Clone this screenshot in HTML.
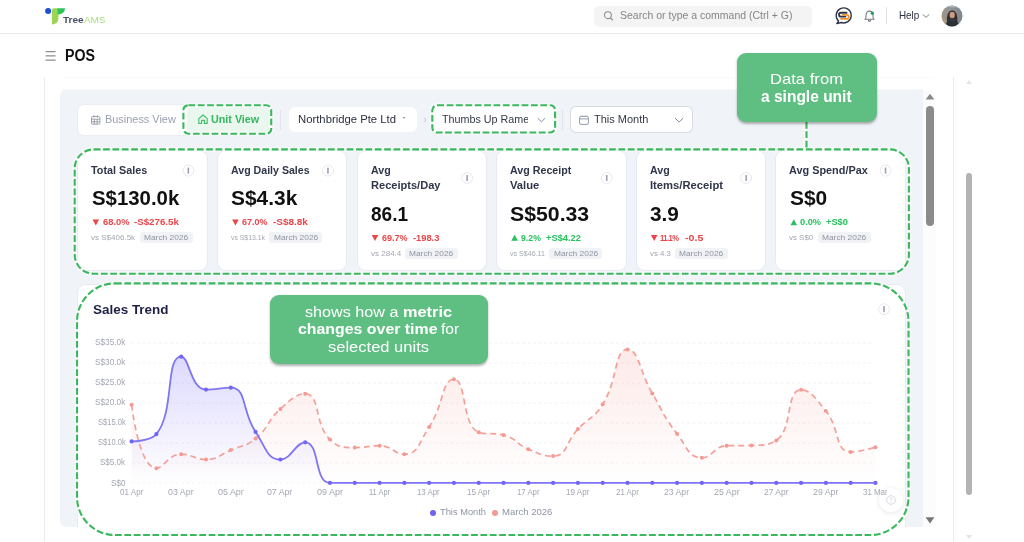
<!DOCTYPE html>
<html lang="en">
<head>
<meta charset="utf-8">
<title>POS - TreeAMS</title>
<style>
*{box-sizing:border-box;margin:0;padding:0}
html,body{width:1024px;height:542px;overflow:hidden;background:#fff;font-family:"Liberation Sans",sans-serif}
#page{filter:blur(.4px);position:relative;width:1024px;height:542px;overflow:hidden;background:#fff}
.abs{position:absolute}
.t{position:absolute;white-space:pre;line-height:1;transform-origin:0 0}
.hdr-line{left:0;top:33px;width:1024px;height:1px;background:#ebebeb}
.search{left:594px;top:5.5px;width:218px;height:21px;background:#f4f4f4;border-radius:5px}
.vline{width:1px;background:#ececec}
.panel{left:60px;top:90px;width:862.5px;height:436.6px;background:#f0f3f8;border-radius:6px 0 0 6px}
.tabs{left:78px;top:105px;width:194px;height:30px;background:#fff;border-radius:6px;box-shadow:0 0 0 1px #e9ecf1}
.unit{left:187.4px;top:107.1px;width:82px;height:24.6px;background:#e9f7ee;border-radius:4px}
.dd{background:#fff;border-radius:6px}
.card{background:#fff;border-radius:8px;box-shadow:0 0 0 1px rgba(225,229,236,.6)}
.badge{background:#f0f2f5;border-radius:3px;height:10.8px;width:53px}
.callout{background:#5fbf82;border-radius:9px;box-shadow:0 1.5px 2.5px rgba(0,0,0,.3)}
.info{width:12px;height:12px;border-radius:50%;border:1px solid #e8eaee;background:#fff}
.info:after{content:"";position:absolute;left:4.2px;top:1.9px;width:1.6px;height:6.2px;border-radius:.5px;background:#9296a6}
</style>
</head>
<body>
<div id="page">

<!-- ===== top header ===== -->
<div class="abs hdr-line"></div>
<svg class="abs" style="left:40px;top:2px" width="72" height="30" viewBox="40 2 72 30">
  <circle cx="48.1" cy="10.9" r="3" fill="#1b4fd4"/>
  <path d="M52 10.2 Q52 8.2 54 8.2 L58.4 8.2 L58.4 18.5 Q58.2 24 52 24.6 Z" fill="#9ad654"/>
  <path d="M57.6 8.2 L65 8.2 Q65 14.2 57.6 14.4 Z" fill="#2fc45a"/>
</svg>
<div class="abs search"></div>
<svg class="abs" style="left:603px;top:10px" width="12" height="12" viewBox="0 0 12 12"><circle cx="4.9" cy="5.2" r="3.4" fill="none" stroke="#8d8d8d" stroke-width="1.1"/><path d="M7.4 7.8 L9.6 10" stroke="#8d8d8d" stroke-width="1.1" stroke-linecap="round"/></svg>

<!-- chat icon -->
<svg class="abs" style="left:834px;top:6px" width="20" height="20" viewBox="0 0 20 20">
  <path d="M4.6 14.9 A7.5 7.5 0 1 1 7.3 16.5 L2.9 17.6 Z" fill="#fff" stroke="#2c3447" stroke-width="1.4" stroke-linejoin="round"/>
  <path d="M12.6 6.75 H7 a1.97 1.97 0 0 0 0 3.94 H11.4" fill="none" stroke="#2c3447" stroke-width="1.8" stroke-linecap="round"/>
  <path d="M8.6 8.9 H12.7 a2.03 2.03 0 0 1 0 4.06 H7" fill="none" stroke="#f0932b" stroke-width="1.8" stroke-linecap="round"/>
</svg>
<!-- bell -->
<svg class="abs" style="left:862px;top:7.6px" width="16" height="16" viewBox="0 0 16 16">
  <path d="M2.9 11.3 C4.2 10.2 4.1 9 4.1 7.1 C4.1 4.6 5.5 3.1 7.5 3.1 C9.5 3.1 10.9 4.6 10.9 7.1 C10.9 9 10.8 10.2 12.1 11.3 Z" fill="#fff" stroke="#777a80" stroke-width="1.1" stroke-linejoin="round"/>
  <path d="M6.4 12.7 Q7.5 13.9 8.6 12.7" fill="none" stroke="#55585e" stroke-width="1.1" stroke-linecap="round"/>
  <circle cx="10.3" cy="5.2" r="1.6" fill="#1e9e57"/>
</svg>
<div class="abs" style="left:886px;top:7px;width:1px;height:17px;background:#e3e3e3"></div>
<svg class="abs" style="left:921px;top:12px" width="10" height="8" viewBox="0 0 10 8"><path d="M1.8 2.4 L5 5.4 L8.2 2.4" fill="none" stroke="#7d828c" stroke-width="1"/></svg>
<!-- avatar -->
<svg class="abs" style="left:940.5px;top:5px" width="22" height="22" viewBox="0 0 22 22">
  <defs><clipPath id="av"><circle cx="11" cy="10.95" r="10.5"/></clipPath>
  <linearGradient id="avg" x1="0" y1="0" x2="1" y2="0"><stop offset="0" stop-color="#a3957f"/><stop offset=".4" stop-color="#8f9499"/><stop offset="1" stop-color="#7d868e"/></linearGradient></defs>
  <g clip-path="url(#av)">
    <rect width="22" height="22" fill="url(#avg)"/>
    <path d="M0 6 Q5 1 11 2.4 Q17 1 22 7 V0 H0 Z" fill="#aeb4bb"/>
    <path d="M0 22 V12 Q3 13 5 17 L6 22 Z" fill="#b39f83"/>
    <path d="M6 18 Q5.2 5.6 11.2 5.2 Q17 5.6 16.4 18 Z" fill="#3a2c26"/>
    <ellipse cx="11.2" cy="10" rx="2.6" ry="3.3" fill="#c99c88"/>
    <path d="M4.2 22 Q4.8 14.6 11.2 13.9 Q17.6 14.6 18.2 22 Z" fill="#2a3237"/>
    <path d="M8.2 13.6 H14.2 V16 H8.2 Z" fill="#323b42"/>
  </g>
</svg>

<!-- ===== page title ===== -->
<svg class="abs" style="left:43.9px;top:48.9px" width="14" height="14" viewBox="0 0 14 14"><path d="M1.6 2.6 H11.6 M1.6 6.9 H11.6 M1.6 11.2 H11.6" stroke="#8d8d8d" stroke-width="1.2"/></svg>

<!-- frame lines / scrollbars -->
<div class="abs vline" style="left:44px;top:77px;height:465px"></div>
<div class="abs vline" style="left:953px;top:77px;height:465px"></div>
<div class="abs" style="left:64px;top:77px;width:870px;height:1px;background:#fafafa"></div>
<div class="abs" style="left:966px;top:173px;width:6px;height:322px;border-radius:3px;background:#b3b3b3"></div>
<svg class="abs" style="left:964px;top:78px" width="10" height="8" viewBox="0 0 10 8"><path d="M2 6 L5 2 L8 6 Z" fill="#e4e4e4"/></svg>
<svg class="abs" style="left:964px;top:533px" width="10" height="8" viewBox="0 0 10 8"><path d="M2 2 L5 6 L8 2 Z" fill="#e4e4e4"/></svg>

<!-- ===== main panel ===== -->
<div class="abs" style="left:62px;top:89px;width:860.5px;height:2px;background:#f7f9fb"></div>
<div class="abs panel"></div>
<div class="abs" style="left:922.5px;top:90px;width:13.5px;height:436.6px;background:#fcfcfd;border-radius:0 6px 6px 0"></div>
<div class="abs" style="left:925.8px;top:106px;width:8px;height:119.5px;border-radius:4px;background:#8b8b8b"></div>
<svg class="abs" style="left:923.7px;top:91.1px" width="12" height="10" viewBox="0 0 12 10"><path d="M1.6 8.4 L6 2.8 L10.4 8.4 Z" fill="#8a8a8a"/></svg>
<svg class="abs" style="left:923.7px;top:515px" width="12" height="10" viewBox="0 0 12 10"><path d="M1.6 2.2 L6 8.6 L10.4 2.2 Z" fill="#777"/></svg>

<!-- filter row -->
<div class="abs tabs"></div>
<div class="abs unit"></div>
<svg class="abs" style="left:90px;top:113.8px" width="12" height="12" viewBox="0 0 12 12"><rect x="1.5" y="2.6" width="8.4" height="7.6" rx="1.2" fill="none" stroke="#9aa0ad" stroke-width="1"/><path d="M1.5 5.2 H9.9 M3.9 1.2 V3.4 M7.5 1.2 V3.4 M4.3 5.2 V10.2 M7.1 5.2 V10.2 M1.5 7.8 H9.9" stroke="#9aa0ad" stroke-width="1" fill="none"/></svg>
<svg class="abs" style="left:196.6px;top:113.2px" width="12" height="12" viewBox="0 0 12 12"><path d="M1.8 5.6 L6 2 L10.2 5.6 V10.4 H7.4 V7.4 H4.6 V10.4 H1.8 Z" fill="none" stroke="#3fbf68" stroke-width="1.1" stroke-linejoin="round"/></svg>
<div class="abs" style="left:280px;top:110px;width:1px;height:20px;background:#e0e4ea"></div>
<div class="abs dd" style="left:289px;top:106.6px;width:128px;height:25.8px"></div>
<svg class="abs" style="left:401.4px;top:116.2px" width="6" height="4" viewBox="0 0 6 4"><path d="M1.5 1 L3 2.8 L4.5 1 Z" fill="#8a8fa0"/></svg>
<svg class="abs" style="left:422px;top:116px" width="6" height="8" viewBox="0 0 6 8"><path d="M1.8 1.6 L4 4 L1.8 6.4" fill="none" stroke="#c3c7cf" stroke-width="1"/></svg>
<div class="abs dd" style="left:432.3px;top:105.2px;width:122.8px;height:27.3px"></div>
<svg class="abs" style="left:535px;top:114px" width="14" height="10" viewBox="0 0 14 10"><path d="M2.7 4.2 L6.4 7.8 L10.1 4.2" fill="none" stroke="#838aa0" stroke-width="1"/></svg>
<div class="abs" style="left:562px;top:110px;width:1px;height:20px;background:#e0e4ea"></div>
<div class="abs dd" style="left:571.2px;top:106.9px;width:120.8px;height:24.9px;border-radius:5px;box-shadow:0 0 0 1px #d9dbe0"></div>
<svg class="abs" style="left:578px;top:114px" width="12" height="12" viewBox="0 0 12 12"><rect x="1.6" y="2.4" width="8.8" height="8" rx="1.4" fill="none" stroke="#989db0" stroke-width="1"/><path d="M1.6 4.9 H10.4 M4 1.4 V3 M8 1.4 V3" stroke="#989db0" stroke-width="1" fill="none"/></svg>
<svg class="abs" style="left:672px;top:114px" width="14" height="10" viewBox="0 0 14 10"><path d="M3 4.1 L7.1 8 L11.2 4.1" fill="none" stroke="#838aa0" stroke-width="1"/></svg>

<!-- KPI cards -->
<div class="abs card" style="left:78.4px;top:151px;width:128.4px;height:119px"></div>
<div class="abs card" style="left:218.0px;top:151px;width:128.4px;height:119px"></div>
<div class="abs card" style="left:357.6px;top:151px;width:128.4px;height:119px"></div>
<div class="abs card" style="left:497.2px;top:151px;width:128.4px;height:119px"></div>
<div class="abs card" style="left:636.8px;top:151px;width:128.4px;height:119px"></div>
<div class="abs card" style="left:776.4px;top:151px;width:128.4px;height:119px"></div>


<div class="abs badge" style="left:139.6px;top:232.4px"></div>
<div class="abs badge" style="left:269.1px;top:232.4px"></div>
<div class="abs badge" style="left:405.0px;top:247.8px"></div>
<div class="abs badge" style="left:549.3px;top:247.8px"></div>
<div class="abs badge" style="left:674.8px;top:247.8px"></div>
<div class="abs badge" style="left:817.7px;top:232.4px"></div>
<svg class="abs" style="left:0;top:0" width="1024" height="542" viewBox="0 0 1024 542"><path d="M92.50 219.50 h6.6 l-3.3 6.1 z" fill="#ec4549"/><path d="M232.10 219.50 h6.6 l-3.3 6.1 z" fill="#ec4549"/><path d="M371.70 234.90 h6.6 l-3.3 6.1 z" fill="#ec4549"/><path d="M511.30 240.70 l3.3 -6 l3.3 6 z" fill="#25c15c"/><path d="M650.90 234.90 h6.6 l-3.3 6.1 z" fill="#ec4549"/><path d="M790.50 225.30 l3.3 -6 l3.3 6 z" fill="#25c15c"/></svg>

<!-- Sales trend card -->
<div class="abs card" style="left:78.4px;top:284.5px;width:826.4px;height:242px;border-radius:8px 8px 0 0"></div>
<div class="abs" style="left:78.4px;top:526px;width:826.4px;height:16px;background:#fff"></div>
<svg class="abs" style="left:0;top:0" width="1024" height="542" viewBox="0 0 1024 542"><circle cx="188.4" cy="170.6" r="5.4" fill="#fff" stroke="#e7e9ee" stroke-width="1"/><rect x="187.55" y="167.50" width="1.6" height="6.2" rx=".4" fill="#9da1b0"/><circle cx="328.0" cy="170.6" r="5.4" fill="#fff" stroke="#e7e9ee" stroke-width="1"/><rect x="327.15" y="167.50" width="1.6" height="6.2" rx=".4" fill="#9da1b0"/><circle cx="467.2" cy="178.0" r="5.4" fill="#fff" stroke="#e7e9ee" stroke-width="1"/><rect x="466.35" y="174.90" width="1.6" height="6.2" rx=".4" fill="#9da1b0"/><circle cx="606.8" cy="178.0" r="5.4" fill="#fff" stroke="#e7e9ee" stroke-width="1"/><rect x="605.95" y="174.90" width="1.6" height="6.2" rx=".4" fill="#9da1b0"/><circle cx="746.2" cy="178.0" r="5.4" fill="#fff" stroke="#e7e9ee" stroke-width="1"/><rect x="745.35" y="174.90" width="1.6" height="6.2" rx=".4" fill="#9da1b0"/><circle cx="885.6" cy="170.6" r="5.4" fill="#fff" stroke="#e7e9ee" stroke-width="1"/><rect x="884.75" y="167.50" width="1.6" height="6.2" rx=".4" fill="#9da1b0"/><circle cx="884.1" cy="309.2" r="5.4" fill="#fff" stroke="#e7e9ee" stroke-width="1"/><rect x="883.25" y="306.10" width="1.6" height="6.2" rx=".4" fill="#9da1b0"/></svg>
<svg class="abs" style="left:0;top:0" width="1024" height="542" viewBox="0 0 1024 542">
<defs><linearGradient id="gb" x1="0" y1="350" x2="0" y2="483" gradientUnits="userSpaceOnUse"><stop offset="0" stop-color="#7b6cf6" stop-opacity=".27"/><stop offset="1" stop-color="#7b6cf6" stop-opacity="0"/></linearGradient><linearGradient id="gr" x1="0" y1="345" x2="0" y2="483" gradientUnits="userSpaceOnUse"><stop offset="0" stop-color="#f59a93" stop-opacity=".22"/><stop offset="1" stop-color="#f59a93" stop-opacity="0"/></linearGradient><clipPath id="cc"><rect x="78" y="286" width="826.5" height="256"/></clipPath></defs>
<line x1="131.5" x2="875" y1="482.90" y2="482.90" stroke="#f2f3f6" stroke-width="1" stroke-dasharray="3 2.5"/>
<line x1="131.5" x2="875" y1="462.93" y2="462.93" stroke="#f2f3f6" stroke-width="1" stroke-dasharray="3 2.5"/>
<line x1="131.5" x2="875" y1="442.96" y2="442.96" stroke="#f2f3f6" stroke-width="1" stroke-dasharray="3 2.5"/>
<line x1="131.5" x2="875" y1="422.99" y2="422.99" stroke="#f2f3f6" stroke-width="1" stroke-dasharray="3 2.5"/>
<line x1="131.5" x2="875" y1="403.02" y2="403.02" stroke="#f2f3f6" stroke-width="1" stroke-dasharray="3 2.5"/>
<line x1="131.5" x2="875" y1="383.05" y2="383.05" stroke="#f2f3f6" stroke-width="1" stroke-dasharray="3 2.5"/>
<line x1="131.5" x2="875" y1="363.08" y2="363.08" stroke="#f2f3f6" stroke-width="1" stroke-dasharray="3 2.5"/>
<line x1="131.5" x2="875" y1="343.11" y2="343.11" stroke="#f2f3f6" stroke-width="1" stroke-dasharray="3 2.5"/>
<path d="M131.60 404.70 C131.60 404.70 138.91 468.30 156.39 468.30 C163.70 468.30 168.06 454.20 181.19 454.20 C192.86 454.20 193.87 459.50 205.99 459.50 C218.66 459.50 218.58 455.27 230.78 450.10 C243.37 444.77 245.28 447.03 255.57 438.50 C270.07 426.48 266.25 421.76 280.37 409.00 C291.05 399.36 296.27 393.70 305.16 393.70 C321.07 393.70 313.44 423.33 329.96 439.50 C338.23 447.60 342.06 447.60 354.75 447.60 C366.86 447.60 367.48 445.70 379.55 445.70 C392.27 445.70 394.04 454.20 404.35 454.20 C418.84 454.20 419.05 442.16 429.14 426.90 C443.85 404.66 442.07 379.20 453.94 379.20 C466.87 379.20 461.34 425.72 478.73 432.30 C486.13 435.10 491.96 432.30 503.52 435.10 C516.75 438.30 515.29 443.68 528.32 449.20 C540.08 454.18 542.89 456.10 553.12 456.10 C567.68 456.10 565.24 442.34 577.91 429.10 C590.03 416.44 593.58 418.96 602.71 404.30 C618.38 379.11 614.01 349.40 627.50 349.40 C638.81 349.40 639.50 371.63 652.30 393.40 C664.30 413.83 662.73 415.18 677.09 433.80 C687.52 447.33 688.11 457.70 701.89 457.70 C712.90 457.70 713.63 446.03 726.68 445.70 C738.43 445.40 739.20 445.70 751.48 445.40 C764.00 445.09 768.59 445.40 776.27 440.40 C793.38 429.26 785.35 389.80 801.07 389.80 C810.14 389.80 815.83 398.34 825.86 410.90 C840.62 429.39 834.41 451.90 850.66 451.90 C859.21 451.90 875.45 447.20 875.45 447.20 L875.45 482.90 L131.60 482.90 Z" fill="url(#gr)"/>
<path d="M131.60 441.40 C131.60 441.40 150.41 441.40 156.39 434.10 C175.21 411.15 164.74 356.70 181.19 356.70 C189.53 356.70 190.52 389.60 205.99 389.60 C215.32 389.60 222.62 387.70 230.78 387.70 C247.41 387.70 241.26 411.17 255.57 431.90 C266.05 447.07 266.70 459.50 280.37 459.50 C291.49 459.50 295.54 442.30 305.16 442.30 C320.34 442.30 313.66 482.90 329.96 482.90 C338.46 482.90 342.36 482.90 354.75 482.90 C367.15 482.90 367.15 482.90 379.55 482.90 C391.95 482.90 391.95 482.90 404.35 482.90 C416.74 482.90 416.74 482.90 429.14 482.90 C441.54 482.90 441.54 482.90 453.94 482.90 C466.33 482.90 466.33 482.90 478.73 482.90 C491.13 482.90 491.13 482.90 503.52 482.90 C515.92 482.90 515.92 482.90 528.32 482.90 C540.72 482.90 540.72 482.90 553.12 482.90 C565.51 482.90 565.51 482.90 577.91 482.90 C590.31 482.90 590.31 482.90 602.71 482.90 C615.10 482.90 615.10 482.90 627.50 482.90 C639.90 482.90 639.90 482.90 652.30 482.90 C664.69 482.90 664.69 482.90 677.09 482.90 C689.49 482.90 689.49 482.90 701.89 482.90 C714.28 482.90 714.28 482.90 726.68 482.90 C739.08 482.90 739.08 482.90 751.48 482.90 C763.87 482.90 763.87 482.90 776.27 482.90 C788.67 482.90 788.67 482.90 801.07 482.90 C813.46 482.90 813.46 482.90 825.86 482.90 C838.26 482.90 838.26 482.90 850.66 482.90 C863.05 482.90 875.45 482.90 875.45 482.90 L875.45 482.90 L131.60 482.90 Z" fill="url(#gb)"/>
<path d="M131.60 404.70 C131.60 404.70 138.91 468.30 156.39 468.30 C163.70 468.30 168.06 454.20 181.19 454.20 C192.86 454.20 193.87 459.50 205.99 459.50 C218.66 459.50 218.58 455.27 230.78 450.10 C243.37 444.77 245.28 447.03 255.57 438.50 C270.07 426.48 266.25 421.76 280.37 409.00 C291.05 399.36 296.27 393.70 305.16 393.70 C321.07 393.70 313.44 423.33 329.96 439.50 C338.23 447.60 342.06 447.60 354.75 447.60 C366.86 447.60 367.48 445.70 379.55 445.70 C392.27 445.70 394.04 454.20 404.35 454.20 C418.84 454.20 419.05 442.16 429.14 426.90 C443.85 404.66 442.07 379.20 453.94 379.20 C466.87 379.20 461.34 425.72 478.73 432.30 C486.13 435.10 491.96 432.30 503.52 435.10 C516.75 438.30 515.29 443.68 528.32 449.20 C540.08 454.18 542.89 456.10 553.12 456.10 C567.68 456.10 565.24 442.34 577.91 429.10 C590.03 416.44 593.58 418.96 602.71 404.30 C618.38 379.11 614.01 349.40 627.50 349.40 C638.81 349.40 639.50 371.63 652.30 393.40 C664.30 413.83 662.73 415.18 677.09 433.80 C687.52 447.33 688.11 457.70 701.89 457.70 C712.90 457.70 713.63 446.03 726.68 445.70 C738.43 445.40 739.20 445.70 751.48 445.40 C764.00 445.09 768.59 445.40 776.27 440.40 C793.38 429.26 785.35 389.80 801.07 389.80 C810.14 389.80 815.83 398.34 825.86 410.90 C840.62 429.39 834.41 451.90 850.66 451.90 C859.21 451.90 875.45 447.20 875.45 447.20" fill="none" stroke="#f4a099" stroke-width="1.7" stroke-dasharray="6 4" stroke-linecap="butt"/>
<circle cx="131.60" cy="404.70" r="2" fill="#f59a93"/>
<circle cx="156.39" cy="468.30" r="2" fill="#f59a93"/>
<circle cx="181.19" cy="454.20" r="2" fill="#f59a93"/>
<circle cx="205.99" cy="459.50" r="2" fill="#f59a93"/>
<circle cx="230.78" cy="450.10" r="2" fill="#f59a93"/>
<circle cx="255.57" cy="438.50" r="2" fill="#f59a93"/>
<circle cx="280.37" cy="409.00" r="2" fill="#f59a93"/>
<circle cx="305.16" cy="393.70" r="2" fill="#f59a93"/>
<circle cx="329.96" cy="439.50" r="2" fill="#f59a93"/>
<circle cx="354.75" cy="447.60" r="2" fill="#f59a93"/>
<circle cx="379.55" cy="445.70" r="2" fill="#f59a93"/>
<circle cx="404.35" cy="454.20" r="2" fill="#f59a93"/>
<circle cx="429.14" cy="426.90" r="2" fill="#f59a93"/>
<circle cx="453.94" cy="379.20" r="2" fill="#f59a93"/>
<circle cx="478.73" cy="432.30" r="2" fill="#f59a93"/>
<circle cx="503.52" cy="435.10" r="2" fill="#f59a93"/>
<circle cx="528.32" cy="449.20" r="2" fill="#f59a93"/>
<circle cx="553.12" cy="456.10" r="2" fill="#f59a93"/>
<circle cx="577.91" cy="429.10" r="2" fill="#f59a93"/>
<circle cx="602.71" cy="404.30" r="2" fill="#f59a93"/>
<circle cx="627.50" cy="349.40" r="2" fill="#f59a93"/>
<circle cx="652.30" cy="393.40" r="2" fill="#f59a93"/>
<circle cx="677.09" cy="433.80" r="2" fill="#f59a93"/>
<circle cx="701.89" cy="457.70" r="2" fill="#f59a93"/>
<circle cx="726.68" cy="445.70" r="2" fill="#f59a93"/>
<circle cx="751.48" cy="445.40" r="2" fill="#f59a93"/>
<circle cx="776.27" cy="440.40" r="2" fill="#f59a93"/>
<circle cx="801.07" cy="389.80" r="2" fill="#f59a93"/>
<circle cx="825.86" cy="410.90" r="2" fill="#f59a93"/>
<circle cx="850.66" cy="451.90" r="2" fill="#f59a93"/>
<circle cx="875.45" cy="447.20" r="2" fill="#f59a93"/>
<path d="M131.60 441.40 C131.60 441.40 150.41 441.40 156.39 434.10 C175.21 411.15 164.74 356.70 181.19 356.70 C189.53 356.70 190.52 389.60 205.99 389.60 C215.32 389.60 222.62 387.70 230.78 387.70 C247.41 387.70 241.26 411.17 255.57 431.90 C266.05 447.07 266.70 459.50 280.37 459.50 C291.49 459.50 295.54 442.30 305.16 442.30 C320.34 442.30 313.66 482.90 329.96 482.90 C338.46 482.90 342.36 482.90 354.75 482.90 C367.15 482.90 367.15 482.90 379.55 482.90 C391.95 482.90 391.95 482.90 404.35 482.90 C416.74 482.90 416.74 482.90 429.14 482.90 C441.54 482.90 441.54 482.90 453.94 482.90 C466.33 482.90 466.33 482.90 478.73 482.90 C491.13 482.90 491.13 482.90 503.52 482.90 C515.92 482.90 515.92 482.90 528.32 482.90 C540.72 482.90 540.72 482.90 553.12 482.90 C565.51 482.90 565.51 482.90 577.91 482.90 C590.31 482.90 590.31 482.90 602.71 482.90 C615.10 482.90 615.10 482.90 627.50 482.90 C639.90 482.90 639.90 482.90 652.30 482.90 C664.69 482.90 664.69 482.90 677.09 482.90 C689.49 482.90 689.49 482.90 701.89 482.90 C714.28 482.90 714.28 482.90 726.68 482.90 C739.08 482.90 739.08 482.90 751.48 482.90 C763.87 482.90 763.87 482.90 776.27 482.90 C788.67 482.90 788.67 482.90 801.07 482.90 C813.46 482.90 813.46 482.90 825.86 482.90 C838.26 482.90 838.26 482.90 850.66 482.90 C863.05 482.90 875.45 482.90 875.45 482.90" fill="none" stroke="#7f75f5" stroke-width="1.8"/>
<circle cx="131.60" cy="441.40" r="2.1" fill="#7166f3"/>
<circle cx="156.39" cy="434.10" r="2.1" fill="#7166f3"/>
<circle cx="181.19" cy="356.70" r="2.1" fill="#7166f3"/>
<circle cx="205.99" cy="389.60" r="2.1" fill="#7166f3"/>
<circle cx="230.78" cy="387.70" r="2.1" fill="#7166f3"/>
<circle cx="255.57" cy="431.90" r="2.1" fill="#7166f3"/>
<circle cx="280.37" cy="459.50" r="2.1" fill="#7166f3"/>
<circle cx="305.16" cy="442.30" r="2.1" fill="#7166f3"/>
<circle cx="329.96" cy="482.90" r="2.1" fill="#7166f3"/>
<circle cx="354.75" cy="482.90" r="2.1" fill="#7166f3"/>
<circle cx="379.55" cy="482.90" r="2.1" fill="#7166f3"/>
<circle cx="404.35" cy="482.90" r="2.1" fill="#7166f3"/>
<circle cx="429.14" cy="482.90" r="2.1" fill="#7166f3"/>
<circle cx="453.94" cy="482.90" r="2.1" fill="#7166f3"/>
<circle cx="478.73" cy="482.90" r="2.1" fill="#7166f3"/>
<circle cx="503.52" cy="482.90" r="2.1" fill="#7166f3"/>
<circle cx="528.32" cy="482.90" r="2.1" fill="#7166f3"/>
<circle cx="553.12" cy="482.90" r="2.1" fill="#7166f3"/>
<circle cx="577.91" cy="482.90" r="2.1" fill="#7166f3"/>
<circle cx="602.71" cy="482.90" r="2.1" fill="#7166f3"/>
<circle cx="627.50" cy="482.90" r="2.1" fill="#7166f3"/>
<circle cx="652.30" cy="482.90" r="2.1" fill="#7166f3"/>
<circle cx="677.09" cy="482.90" r="2.1" fill="#7166f3"/>
<circle cx="701.89" cy="482.90" r="2.1" fill="#7166f3"/>
<circle cx="726.68" cy="482.90" r="2.1" fill="#7166f3"/>
<circle cx="751.48" cy="482.90" r="2.1" fill="#7166f3"/>
<circle cx="776.27" cy="482.90" r="2.1" fill="#7166f3"/>
<circle cx="801.07" cy="482.90" r="2.1" fill="#7166f3"/>
<circle cx="825.86" cy="482.90" r="2.1" fill="#7166f3"/>
<circle cx="850.66" cy="482.90" r="2.1" fill="#7166f3"/>
<circle cx="875.45" cy="482.90" r="2.1" fill="#7166f3"/>
</svg>
<!-- help fab -->
<div class="abs" style="left:879.3px;top:488.3px;width:24px;height:24px;border-radius:50%;background:#fff;box-shadow:0 1px 5px rgba(0,0,0,.10)"></div>
<svg class="abs" style="left:885.3px;top:494.3px" width="12" height="12" viewBox="0 0 12 12"><circle cx="6" cy="6" r="4.3" fill="none" stroke="#d9dce2" stroke-width="1"/><path d="M4.8 4.9 Q4.9 3.7 6 3.7 Q7.2 3.7 7.2 4.8 Q7.2 5.6 6 6.2 V6.9" fill="none" stroke="#d9dce2" stroke-width=".9"/><circle cx="6" cy="8.3" r=".55" fill="#d9dce2"/></svg>

<!-- legend dots -->
<div class="abs" style="left:430.1px;top:509.9px;width:5.8px;height:5.8px;border-radius:50%;background:#6f63f5"></div>
<div class="abs" style="left:492.3px;top:509.9px;width:5.8px;height:5.8px;border-radius:50%;background:#f59a93"></div>
<span class="t" style="left:62.60px;top:15.10px;font-size:9.8px;color:#4a5163;font-weight:700;transform:scaleX(1.0220);">Tree</span>
<span class="t" style="left:84.00px;top:15.10px;font-size:9.8px;color:#a6df78;transform:scaleX(1.0078);">AMS</span>
<span class="t" style="left:620.20px;top:10.00px;font-size:10.5px;color:#858585;transform:scaleX(1.0004);">Search or type a command (Ctrl + G)</span>
<span class="t" style="left:898.50px;top:9.60px;font-size:10.5px;color:#2b3040;transform:scaleX(0.9394);">Help</span>
<span class="t" style="left:64.90px;top:48.00px;font-size:16px;color:#111;font-weight:700;transform:scaleX(0.8877);">POS</span>
<span class="t" style="left:105.20px;top:114.90px;font-size:10.4px;color:#9aa0ad;transform:scaleX(1.0506);">Business View</span>
<span class="t" style="left:211.30px;top:114.90px;font-size:10.4px;color:#35b860;font-weight:700;transform:scaleX(1.0348);">Unit View</span>
<span class="t" style="left:298.30px;top:114.20px;font-size:10.8px;color:#2b3040;transform:scaleX(1.0466);">Northbridge Pte Ltd</span>
<span class="t" style="left:441.50px;top:114.20px;font-size:10.8px;color:#343947;transform:scaleX(0.9965);">Thumbs Up Rame</span>
<span class="t" style="left:594.30px;top:114.20px;font-size:10.8px;color:#343947;transform:scaleX(1.0186);">This Month</span>
<span class="t" style="left:91.40px;top:165.40px;font-size:10.5px;color:#30364a;font-weight:700;transform:scaleX(1.0280);">Total Sales</span>
<span class="t" style="left:91.60px;top:188.20px;font-size:20.9px;color:#111;font-weight:700;transform:scaleX(0.9759);">S$130.0k</span>
<span class="t" style="left:102.80px;top:218.20px;font-size:9.3px;color:#ec4549;font-weight:700;transform:scaleX(1.0047);">68.0%</span>
<span class="t" style="left:134.20px;top:218.20px;font-size:9.3px;color:#ec4549;font-weight:700;transform:scaleX(1.0441);">-S$276.5k</span>
<span class="t" style="left:91.30px;top:234.20px;font-size:7.6px;color:#a3a7b2;transform:scaleX(1.0551);">vs S$406.5k</span>
<span class="t" style="left:144.00px;top:234.20px;font-size:7.6px;color:#8f94a2;transform:scaleX(1.1020);">March 2026</span>
<span class="t" style="left:231.00px;top:165.40px;font-size:10.5px;color:#30364a;font-weight:700;transform:scaleX(1.0099);">Avg Daily Sales</span>
<span class="t" style="left:231.20px;top:188.20px;font-size:20.9px;color:#111;font-weight:700;transform:scaleX(1.0012);">S$4.3k</span>
<span class="t" style="left:242.30px;top:218.20px;font-size:9.3px;color:#ec4549;font-weight:700;transform:scaleX(0.9630);">67.0%</span>
<span class="t" style="left:273.10px;top:218.20px;font-size:9.3px;color:#ec4549;font-weight:700;transform:scaleX(1.0718);">-S$8.8k</span>
<span class="t" style="left:230.90px;top:234.20px;font-size:7.6px;color:#a3a7b2;transform:scaleX(0.9048);">vs S$13.1k</span>
<span class="t" style="left:273.50px;top:234.20px;font-size:7.6px;color:#8f94a2;transform:scaleX(1.1020);">March 2026</span>
<span class="t" style="left:370.60px;top:165.40px;font-size:10.5px;color:#30364a;font-weight:700;transform:scaleX(1.0127);">Avg</span>
<span class="t" style="left:370.60px;top:180.00px;font-size:10.5px;color:#30364a;font-weight:700;transform:scaleX(1.0538);">Receipts/Day</span>
<span class="t" style="left:370.80px;top:203.60px;font-size:20.9px;color:#111;font-weight:700;transform:scaleX(0.9097);">86.1</span>
<span class="t" style="left:381.80px;top:233.60px;font-size:9.3px;color:#ec4549;font-weight:700;transform:scaleX(0.9706);">69.7%</span>
<span class="t" style="left:412.50px;top:233.60px;font-size:9.3px;color:#ec4549;font-weight:700;transform:scaleX(1.0009);">-198.3</span>
<span class="t" style="left:370.50px;top:249.60px;font-size:7.6px;color:#a3a7b2;transform:scaleX(1.0551);">vs 284.4</span>
<span class="t" style="left:409.40px;top:249.60px;font-size:7.6px;color:#8f94a2;transform:scaleX(1.1020);">March 2026</span>
<span class="t" style="left:510.20px;top:165.40px;font-size:10.5px;color:#30364a;font-weight:700;transform:scaleX(1.0166);">Avg Receipt</span>
<span class="t" style="left:510.20px;top:180.00px;font-size:10.5px;color:#30364a;font-weight:700;transform:scaleX(1.0679);">Value</span>
<span class="t" style="left:510.40px;top:203.60px;font-size:20.9px;color:#111;font-weight:700;transform:scaleX(1.0174);">S$50.33</span>
<span class="t" style="left:521.40px;top:233.60px;font-size:9.3px;color:#25c15c;font-weight:700;transform:scaleX(0.9385);">9.2%</span>
<span class="t" style="left:546.40px;top:233.60px;font-size:9.3px;color:#25c15c;font-weight:700;transform:scaleX(0.9998);">+S$4.22</span>
<span class="t" style="left:510.10px;top:249.60px;font-size:7.6px;color:#a3a7b2;transform:scaleX(0.9349);">vs S$46.11</span>
<span class="t" style="left:553.70px;top:249.60px;font-size:7.6px;color:#8f94a2;transform:scaleX(1.1020);">March 2026</span>
<span class="t" style="left:649.80px;top:165.40px;font-size:10.5px;color:#30364a;font-weight:700;transform:scaleX(1.0127);">Avg</span>
<span class="t" style="left:649.80px;top:180.00px;font-size:10.5px;color:#30364a;font-weight:700;transform:scaleX(1.0706);">Items/Receipt</span>
<span class="t" style="left:650.00px;top:203.60px;font-size:20.9px;color:#111;font-weight:700;transform:scaleX(0.9949);">3.9</span>
<span class="t" style="left:660.20px;top:233.60px;font-size:9.3px;color:#ec4549;font-weight:700;letter-spacing:-0.65px;transform:scaleX(0.8213);">11.1%</span>
<span class="t" style="left:684.70px;top:233.60px;font-size:9.3px;color:#ec4549;font-weight:700;transform:scaleX(1.1415);">-0.5</span>
<span class="t" style="left:649.70px;top:249.60px;font-size:7.6px;color:#a3a7b2;transform:scaleX(1.0313);">vs 4.3</span>
<span class="t" style="left:679.20px;top:249.60px;font-size:7.6px;color:#8f94a2;transform:scaleX(1.1020);">March 2026</span>
<span class="t" style="left:789.40px;top:165.40px;font-size:10.5px;color:#30364a;font-weight:700;transform:scaleX(1.0360);">Avg Spend/Pax</span>
<span class="t" style="left:789.60px;top:188.20px;font-size:20.9px;color:#111;font-weight:700;transform:scaleX(1.0008);">S$0</span>
<span class="t" style="left:799.80px;top:218.20px;font-size:9.3px;color:#25c15c;font-weight:700;transform:scaleX(0.9951);">0.0%</span>
<span class="t" style="left:826.20px;top:218.20px;font-size:9.3px;color:#25c15c;font-weight:700;transform:scaleX(0.9962);">+S$0</span>
<span class="t" style="left:789.30px;top:234.20px;font-size:7.6px;color:#a3a7b2;transform:scaleX(1.0423);">vs S$0</span>
<span class="t" style="left:822.10px;top:234.20px;font-size:7.6px;color:#8f94a2;transform:scaleX(1.1020);">March 2026</span>
<span class="t" style="left:93.00px;top:303.00px;font-size:13.5px;color:#1e2145;font-weight:700;transform:scaleX(0.9961);">Sales Trend</span>
<span class="t" style="left:110.90px;top:478.60px;font-size:8.3px;color:#a3a7b3;transform:scaleX(0.9820);">S$0</span>
<span class="t" style="left:100.30px;top:458.23px;font-size:8.3px;color:#a3a7b3;transform:scaleX(0.9712);">S$5.0k</span>
<span class="t" style="left:97.70px;top:438.26px;font-size:8.3px;color:#a3a7b3;transform:scaleX(0.9096);">S$10.0k</span>
<span class="t" style="left:97.70px;top:418.29px;font-size:8.3px;color:#a3a7b3;transform:scaleX(0.9096);">S$15.0k</span>
<span class="t" style="left:95.10px;top:398.32px;font-size:8.3px;color:#a3a7b3;transform:scaleX(0.9950);">S$20.0k</span>
<span class="t" style="left:95.10px;top:378.35px;font-size:8.3px;color:#a3a7b3;transform:scaleX(0.9950);">S$25.0k</span>
<span class="t" style="left:95.10px;top:358.38px;font-size:8.3px;color:#a3a7b3;transform:scaleX(0.9950);">S$30.0k</span>
<span class="t" style="left:95.10px;top:338.41px;font-size:8.3px;color:#a3a7b3;transform:scaleX(0.9950);">S$35.0k</span>
<span class="t" style="left:119.60px;top:487.60px;font-size:8.3px;color:#a3a7b3;transform:scaleX(0.9750);">01 Apr</span>
<span class="t" style="left:168.09px;top:487.60px;font-size:8.3px;color:#a3a7b3;transform:scaleX(1.0667);">03 Apr</span>
<span class="t" style="left:217.58px;top:487.60px;font-size:8.3px;color:#a3a7b3;transform:scaleX(1.0750);">05 Apr</span>
<span class="t" style="left:267.42px;top:487.60px;font-size:8.3px;color:#a3a7b3;transform:scaleX(1.0542);">07 Apr</span>
<span class="t" style="left:316.66px;top:487.60px;font-size:8.3px;color:#a3a7b3;transform:scaleX(1.0833);">09 Apr</span>
<span class="t" style="left:368.70px;top:487.60px;font-size:8.3px;color:#a3a7b3;transform:scaleX(0.9027);">11 Apr</span>
<span class="t" style="left:417.49px;top:487.60px;font-size:8.3px;color:#a3a7b3;transform:scaleX(0.9458);">13 Apr</span>
<span class="t" style="left:466.83px;top:487.60px;font-size:8.3px;color:#a3a7b3;transform:scaleX(0.9667);">15 Apr</span>
<span class="t" style="left:516.77px;top:487.60px;font-size:8.3px;color:#a3a7b3;transform:scaleX(0.9375);">17 Apr</span>
<span class="t" style="left:565.91px;top:487.60px;font-size:8.3px;color:#a3a7b3;transform:scaleX(0.9750);">19 Apr</span>
<span class="t" style="left:615.75px;top:487.60px;font-size:8.3px;color:#a3a7b3;transform:scaleX(0.9542);">21 Apr</span>
<span class="t" style="left:664.24px;top:487.60px;font-size:8.3px;color:#a3a7b3;transform:scaleX(1.0458);">23 Apr</span>
<span class="t" style="left:713.58px;top:487.60px;font-size:8.3px;color:#a3a7b3;transform:scaleX(1.0667);">25 Apr</span>
<span class="t" style="left:763.67px;top:487.60px;font-size:8.3px;color:#a3a7b3;transform:scaleX(1.0250);">27 Apr</span>
<span class="t" style="left:812.86px;top:487.60px;font-size:8.3px;color:#a3a7b3;transform:scaleX(1.0583);">29 Apr</span>
<div class="abs" style="left:863.10px;top:487.60px;width:23.80px;height:10.8px;overflow:hidden"><span class="t" style="left:0;top:0;font-size:8.3px;color:#a3a7b3;transform:scaleX(0.9525);">31 Mar</span></div>
<span class="t" style="left:440.20px;top:508.30px;font-size:9.2px;color:#8f95a3;transform:scaleX(1.0120);">This Month</span>
<span class="t" style="left:502.20px;top:508.30px;font-size:9.2px;color:#8f95a3;transform:scaleX(1.0385);">March 2026</span>
<div class="abs" style="left:527.7px;top:112px;width:6px;height:15px;background:#fff"></div>
<!-- ===== green annotation overlays ===== -->
<svg class="abs" style="left:0;top:0" width="1024" height="542" viewBox="0 0 1024 542" fill="none">
  <g stroke="#fff" stroke-width="4.4" opacity=".5"><rect x="183.4" y="105.3" width="87.8" height="28.4" rx="5"/><rect x="432.3" y="105.2" width="122.8" height="27.3" rx="5"/><rect x="74.7" y="149.4" width="834.2" height="124.3" rx="19"/><rect x="77" y="283.4" width="831.5" height="251.6" rx="38"/><path d="M806.5 122 V149"/></g>
  <g stroke="#3bb75e" stroke-width="2.1" stroke-dasharray="6.75 2.62"><rect x="183.4" y="105.3" width="87.8" height="28.4" rx="5"/><rect x="432.3" y="105.2" width="122.8" height="27.3" rx="5"/><rect x="74.7" y="149.4" width="834.2" height="124.3" rx="19"/><rect x="77" y="283.4" width="831.5" height="251.6" rx="38"/><path d="M806.5 122 V149"/></g>
</svg>
<div class="abs callout" style="left:737px;top:53.2px;width:140px;height:68.6px"></div>
<div class="abs callout" style="left:270px;top:295px;width:218px;height:68.5px"></div>

<span class="t" style="left:770.00px;top:71.20px;font-size:15px;color:#fff;transform:scaleX(1.1084);">Data from</span>
<span class="t" style="left:761.40px;top:88.70px;font-size:15.6px;color:#fff;font-weight:700;transform:scaleX(0.9958);">a single unit</span>
<span class="t" style="left:305.30px;top:303.80px;font-size:15.5px;color:#fff;transform:scaleX(1.0434);">shows how a </span>
<span class="t" style="left:403.30px;top:303.80px;font-size:15.5px;color:#fff;font-weight:700;transform:scaleX(1.0531);">metric</span>
<span class="t" style="left:297.50px;top:321.20px;font-size:15.5px;color:#fff;font-weight:700;transform:scaleX(1.0249);">changes over time</span>
<span class="t" style="left:441.30px;top:321.20px;font-size:15.5px;color:#fff;transform:scaleX(1.0059);">for</span>
<span class="t" style="left:328.20px;top:338.60px;font-size:15.5px;color:#fff;transform:scaleX(1.0656);">selected units</span>

</div>
</body>
</html>
